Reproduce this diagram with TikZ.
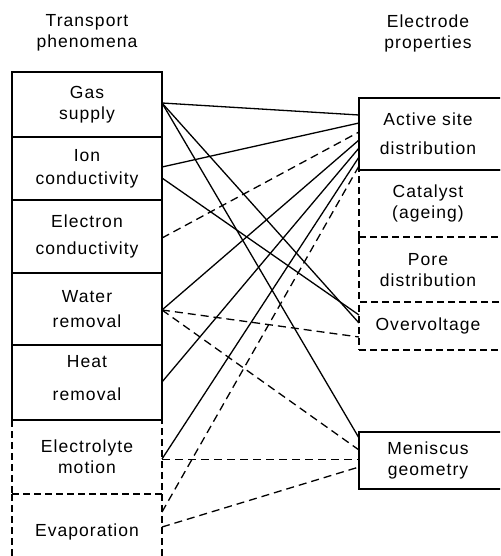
\documentclass[tikz,border=0pt]{standalone}
\usepackage{fontspec}
\setmainfont{Liberation Sans}[LetterSpace=6.0]

\begin{document}
\begin{tikzpicture}[x=1pt,y=-1pt,
	every node/.style={font=\fontsize{17.5}{21}\selectfont,align=center,inner sep=0pt,outer sep=0pt},
	lbox/.style={draw,line width=1.5pt,minimum width=150pt,anchor=north west},
	rbox/.style={draw,line width=1.5pt,minimum width=200pt,anchor=north west},
	dbox/.style={line width=1.2pt,dash pattern=on 7pt off 4pt},
	link/.style={line width=1.3pt},
	dlink/.style={link,dash pattern=on 8pt off 5pt}]
	\useasboundingbox (0,0) rectangle (500,556);
	\clip (0,0) rectangle (500,556);
	% headings
	\node (tp) at (87,33) {Transport\\phenomena};
	\node (ep) at (428,33) {Electrode\\properties};
	% transport phenomena
	\node[lbox,dbox,minimum height=74pt] (elyte) at (12,420) {Electrolyte\\motion};
	\node[lbox,draw=none,minimum height=76pt] (evap) at (12,494) {Evaporation};
	\draw[dbox] (evap.north west) -- (evap.south west) (evap.north east) -- (evap.south east);
	\node[lbox,minimum height=65pt] (gas) at (12,72) {Gas\\supply};
	\node[lbox,minimum height=63pt] (ion) at (12,137) {Ion\\[2pt]conductivity};
	\node[lbox,minimum height=73pt] (elec) at (12,200) {Electron\\[6pt]conductivity};
	\node[lbox,minimum height=72pt] (water) at (12,273) {Water\\[4pt]removal};
	\node[lbox,minimum height=75pt] (heat) at (12,345) {Heat\\[12pt]removal\rule[-10pt]{0pt}{10pt}};
	% electrode properties
	\node[rbox,dbox,minimum height=67pt] (cat) at (359,170) {};
	\node[rbox,draw=none,minimum height=65pt] (pore) at (359,237) {};
	\draw[dbox] (pore.north west) -- (pore.south west);
	\node[rbox,dbox,minimum height=48pt] (over) at (359,302) {};
	\node[rbox,minimum height=72pt] (act) at (359,98) {};
	\node[rbox,minimum height=57pt] (men) at (359,432) {};
	\node (act-t) at (428,134) {Active site\\[8pt]distribution};
	\node (cat-t) at (428,203) {Catalyst\\(ageing)};
	\node (pore-t) at (428,270) {Pore\\distribution};
	\node (over-t) at (428,326) {Overvoltage};
	\node (men-t) at (428,460) {Meniscus\\geometry};
	% links
	\draw[link] ([yshift=1.5pt]gas.east) -- ([yshift=19pt]act.west);
	\draw[link] ([yshift=1.5pt]gas.east) -- ([yshift=3pt]over.west);
	\draw[link] ([yshift=1.5pt]gas.east) -- ([yshift=22.5pt]men.west);
	\draw[link] ([yshift=1.5pt]ion.east) -- ([yshift=11pt]act.west);
	\draw[link] ([yshift=-9.5pt]ion.east) -- ([yshift=11pt]over.west);
	\draw[dlink] ([yshift=-1.5pt]elec.east) -- ([yshift=2pt]act.west);
	\draw[link] ([yshift=-1pt]water.east) -- ([yshift=-6pt]act.west);
	\draw[dlink] ([yshift=-1pt]water.east) -- ([yshift=-11pt]over.west);
	\draw[dlink] ([yshift=-1pt]water.east) -- ([yshift=10.5pt]men.west);
	\draw[link] ([yshift=0.5pt]heat.east) -- ([yshift=-14pt]act.west);
	\draw[link] ([yshift=-2pt]elyte.east) -- ([yshift=-23pt]act.west);
	\draw[dlink] ([yshift=-2.5pt]elyte.east) -- ([yshift=1pt]men.west);
	\draw[dlink] ([yshift=20pt]evap.east) -- ([yshift=-32pt]act.west);
	\draw[dlink] ([yshift=5pt]evap.east) -- ([yshift=-6.5pt]men.west);
\end{tikzpicture}
\end{document}
